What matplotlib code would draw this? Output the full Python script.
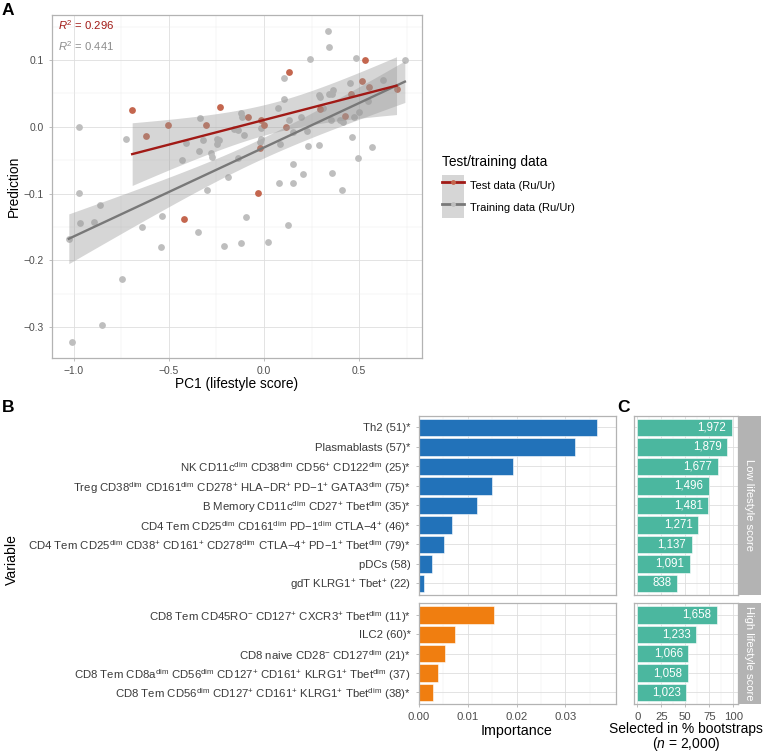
import numpy as np
import matplotlib
matplotlib.use('Agg')
from matplotlib import pyplot as plt
from matplotlib.patches import Patch
from matplotlib.lines import Line2D

plt.rcParams['font.family'] = ['Liberation Sans', 'DejaVu Sans']
plt.rcParams['mathtext.fontset'] = 'custom'
plt.rcParams['mathtext.rm'] = 'Liberation Sans'
plt.rcParams['mathtext.it'] = 'Liberation Sans:italic'
plt.rcParams['mathtext.default'] = 'regular'

# ---- panel A data ----
test_x = [-0.693, -0.619, -0.504, -0.423, -0.304, -0.233, -0.086, -0.032, -0.023, -0.014,
          -0.002, 0.114, 0.132, 0.293, 0.425, 0.456, 0.512, 0.532, 0.553, 0.696]
test_y = [0.025, -0.0135, 0.002, -0.138, 0.003, 0.029, 0.014, -0.0985, -0.0315, 0.0105,
          0.0025, -0.001, 0.082, 0.027, 0.0155, 0.0485, 0.068, 0.100, 0.060, 0.0565]

train_x = [-1.026, -1.009, -0.970, -0.970, -0.968, -0.891, -0.860, -0.853, -0.746, -0.725,
           -0.640, -0.535, -0.539, -0.433, -0.409, -0.349, -0.342, -0.335, -0.319, -0.300,
           -0.277, -0.275, -0.249, -0.247, -0.237, -0.211, -0.188, -0.158, -0.135, -0.135,
           -0.123, -0.123, -0.114, -0.107, -0.095, -0.018, -0.016, -0.021, 0.023, 0.075,
           0.079, 0.082, 0.105, 0.105, 0.126, 0.132, 0.153, 0.153, 0.154, 0.196,
           0.202, 0.226, 0.232, 0.240, 0.288, 0.289, 0.296, 0.309, 0.337, 0.342,
           0.342, 0.356, 0.363, 0.354, 0.358, 0.398, 0.416, 0.407, 0.454, 0.463,
           0.474, 0.482, 0.493, 0.500, 0.546, 0.567, 0.623, 0.740]
train_y = [-0.168, -0.323, 0.000, -0.099, -0.1435, -0.1425, -0.1175, -0.297, -0.2285, -0.0185,
           -0.1505, -0.134, -0.180, -0.050, -0.0245, -0.158, -0.037, 0.013, -0.0195, -0.0945,
           -0.0395, -0.0455, -0.0255, -0.018, -0.0195, -0.179, -0.0755, -0.0035, -0.0045, -0.047,
           0.0205, -0.1745, 0.0145, -0.012, -0.1355, -0.0015, -0.018, -0.0235, -0.172, 0.028,
           -0.084, -0.0255, 0.0735, 0.0415, -0.147, 0.0105, -0.085, -0.0565, -0.0085, 0.0145,
           -0.0715, -0.007, -0.0285, 0.102, -0.028, 0.047, 0.044, 0.028, 0.144, 0.120,
           0.049, 0.049, 0.0555, 0.0105, -0.0695, 0.0105, 0.0075, -0.0945, 0.065, -0.0155,
           0.014, 0.103, -0.0475, 0.0215, 0.0385, -0.030, 0.0705, 0.0995]

# ---- panel B / C data ----
low_labels = [
    'Th2 (51)*',
    'Plasmablasts (57)*',
    r'NK CD11c$^{dim}$ CD38$^{dim}$ CD56$^{+}$ CD122$^{dim}$ (25)*',
    r'Treg CD38$^{dim}$ CD161$^{dim}$ CD278$^{+}$ HLA$-$DR$^{+}$ PD$-$1$^{+}$ GATA3$^{dim}$ (75)*',
    r'B Memory CD11c$^{dim}$ CD27$^{+}$ Tbet$^{dim}$ (35)*',
    r'CD4 Tem CD25$^{dim}$ CD161$^{dim}$ PD$-$1$^{dim}$ CTLA$-$4$^{+}$ (46)*',
    r'CD4 Tem CD25$^{dim}$ CD38$^{+}$ CD161$^{+}$ CD278$^{dim}$ CTLA$-$4$^{+}$ PD$-$1$^{+}$ Tbet$^{dim}$ (79)*',
    'pDCs (58)',
    r'gdT KLRG1$^{+}$ Tbet$^{+}$ (22)',
]
low_importance = [0.0365, 0.0320, 0.0192, 0.0150, 0.0119, 0.0068, 0.0052, 0.0026, 0.0011]
low_boot = [1972, 1879, 1677, 1496, 1481, 1271, 1137, 1091, 838]

high_labels = [
    r'CD8 Tem CD45RO$^{-}$ CD127$^{+}$ CXCR3$^{+}$ Tbet$^{dim}$ (11)*',
    'ILC2 (60)*',
    r'CD8 naive CD28$^{-}$ CD127$^{dim}$ (21)*',
    r'CD8 Tem CD8a$^{dim}$ CD56$^{dim}$ CD127$^{+}$ CD161$^{+}$ KLRG1$^{+}$ Tbet$^{dim}$ (37)',
    r'CD8 Tem CD56$^{dim}$ CD127$^{+}$ CD161$^{+}$ KLRG1$^{+}$ Tbet$^{dim}$ (38)*',
]
high_importance = [0.0154, 0.0073, 0.0054, 0.0038, 0.0029]
high_boot = [1658, 1233, 1066, 1058, 1023]
n_boot = 2000

W, H = 764, 753
fig = plt.figure(figsize=(W / 100, H / 100), dpi=100)


def box(x0, y0, x1, y1):
    # pixel box with top-left origin -> figure rect
    return [x0 / W, 1 - y1 / H, (x1 - x0) / W, (y1 - y0) / H]


def light(ax, tick_size=7.4):
    ax.set_facecolor('white')
    for s in ax.spines.values():
        s.set_color('#B3B3B3')
        s.set_linewidth(0.9)
    ax.tick_params(colors='#B3B3B3', labelcolor='#4D4D4D', labelsize=tick_size, length=2.5, width=0.6)
    ax.tick_params(which='minor', length=0)
    ax.grid(True, which='major', color='#DEDEDE', lw=0.6)
    ax.grid(True, which='minor', color='#EDEDED', lw=0.35)
    ax.set_axisbelow(True)


def t975(df):
    z = 1.959964
    return z + (z**3 + z) / (4 * df) + (5 * z**5 + 16 * z**3 + 3 * z) / (96 * df**2)


def fit_band(x, y, xs):
    x = np.asarray(x)
    y = np.asarray(y)
    n = len(x)
    b, a = np.polyfit(x, y, 1)
    resid = y - (a + b * x)
    s = np.sqrt(np.sum(resid**2) / (n - 2))
    se = s * np.sqrt(1 / n + (xs - x.mean())**2 / np.sum((x - x.mean())**2))
    return a + b * xs, t975(n - 2) * se


# ================= panel A =================
axA = fig.add_axes(box(52, 15, 421.7, 358))
light(axA)

red_pt, red_ln = '#C4664E', '#A11A16'
gray_pt, gray_ln = '#BEBEBE', '#787878'

axA.scatter(train_x, train_y, s=24, color=gray_pt, lw=0, zorder=2)
axA.scatter(test_x, test_y, s=24, color=red_pt, lw=0, zorder=2)

for xs_, ys_, col in [(train_x, train_y, gray_ln), (test_x, test_y, red_ln)]:
    xx = np.linspace(min(xs_), max(xs_), 80)
    pred, hw = fit_band(xs_, ys_, xx)
    axA.fill_between(xx, pred - hw, pred + hw, color='#999999', alpha=0.4, lw=0, zorder=3)
    axA.plot(xx, pred, color=col, lw=1.7, zorder=4)

allx = train_x + test_x
ally = train_y + test_y
rx = max(allx) - min(allx)
ry = max(ally) - min(ally)
axA.set_xlim(min(allx) - 0.05 * rx, max(allx) + 0.05 * rx)
axA.set_ylim(min(ally) - 0.05 * ry, max(ally) + 0.05 * ry)
axA.set_xticks([-1.0, -0.5, 0.0, 0.5])
axA.set_xticklabels(['\u22121.0', '\u22120.5', '0.0', '0.5'])
axA.set_xticks([-0.75, -0.25, 0.25, 0.75], minor=True)
axA.set_yticks([-0.3, -0.2, -0.1, 0.0, 0.1])
axA.set_yticklabels(['\u22120.3', '\u22120.2', '\u22120.1', '0.0', '0.1'])
axA.set_yticks([-0.25, -0.15, -0.05, 0.05, 0.15], minor=True)

axA.text(0.017, 0.971, r'$\mathit{R}^{2}$ = 0.296', transform=axA.transAxes, color='#A11A16',
         fontsize=8.1, va='center', ha='left')
axA.text(0.017, 0.910, r'$\mathit{R}^{2}$ = 0.441', transform=axA.transAxes, color='#8C8C8C',
         fontsize=8.1, va='center', ha='left')

fig.text(237 / W, 1 - 384 / H, 'PC1 (lifestyle score)', fontsize=9.9, ha='center', va='center')
fig.text(14 / W, 1 - 186 / H, 'Prediction', fontsize=9.9, ha='center', va='center', rotation=90)

# legend: title as its own text so the gap to the keys matches
fig.text(442 / W, 1 - 162 / H, 'Test/training data', fontsize=9.9, ha='left', va='center')
key_bg = Patch(facecolor='#999999', alpha=0.4, edgecolor='none')
handles = [(key_bg, Line2D([], [], color=red_ln, lw=2, marker='o', markersize=3.5, markerfacecolor=red_pt, markeredgewidth=0)),
           (key_bg, Line2D([], [], color=gray_ln, lw=2, marker='o', markersize=3.5, markerfacecolor=gray_pt, markeredgewidth=0))]
fig.legend(handles, ['Test data (Ru/Ur)', 'Training data (Ru/Ur)'],
           loc='upper left', bbox_to_anchor=(442 / W, 1 - 175 / H), frameon=False,
           fontsize=8.0, handlelength=1.95, handleheight=2.6,
           labelspacing=0.0, handletextpad=0.6, borderaxespad=0, borderpad=0)

# ================= panel B / C =================
blue, orange, teal = '#2272B9', '#F07E10', '#4BB79F'

rows = [(low_labels, low_importance, low_boot, blue, 'Low lifestyle score', 415.7, 595),
        (high_labels, high_importance, high_boot, orange, 'High lifestyle score', 603.3, 704)]

for labels, imp, boot, col, strip, top, bot in rows:
    n = len(labels)
    ypos = np.arange(n)[::-1]

    axB = fig.add_axes(box(419, top, 616, bot))
    light(axB, 8.2)
    axB.barh(ypos, imp, height=0.9, color=col, edgecolor='white', lw=0.4)
    axB.set_ylim(-0.6, n - 0.4)
    axB.set_xlim(0, 0.0404)
    axB.set_yticks(ypos)
    axB.set_yticklabels(labels, fontsize=8.2, color='#3A3A3A')
    axB.set_xticks([0.0, 0.01, 0.02, 0.03])
    axB.set_xticks([0.005, 0.015, 0.025, 0.035], minor=True)
    axB.grid(False, axis='y', which='minor')

    axC = fig.add_axes(box(634, top, 737.7, bot))
    light(axC, 8.2)
    pct = [100 * b / n_boot for b in boot]
    axC.barh(ypos, pct, height=0.9, color=teal, edgecolor='white', lw=0.4)
    for yy, p, b in zip(ypos, pct, boot):
        axC.annotate(f'{b:,}', (p, yy), xytext=(-4, 0), textcoords='offset points',
                     ha='right', va='center', color='white', fontsize=8.3)
    axC.set_ylim(-0.6, n - 0.4)
    axC.set_xlim(-3.4, 104.6)
    axC.set_yticks(ypos)
    axC.set_yticklabels([])
    axC.tick_params(axis='y', length=0)
    axC.set_xticks([0, 25, 50, 75, 100])
    axC.set_xticks([12.5, 37.5, 62.5, 87.5], minor=True)

    axS = fig.add_axes(box(737.7, top, 760.7, bot))
    axS.set_facecolor('#B3B3B3')
    for s in axS.spines.values():
        s.set_visible(False)
    axS.set_xticks([])
    axS.set_yticks([])
    axS.text(0.5, 0.5, strip, rotation=-90, color='white', fontsize=8.1,
             ha='center', va='center', transform=axS.transAxes)

    if bot < 650:
        axB.set_xticklabels([])
        axB.tick_params(axis='x', length=0)
        axC.set_xticklabels([])
        axC.tick_params(axis='x', length=0)
    else:
        axB.set_xticklabels(['0.00', '0.01', '0.02', '0.03'])

fig.text(517 / W, 1 - 731 / H, 'Importance', fontsize=10.3, ha='center', va='center')
fig.text(686 / W, 1 - 737.5 / H, 'Selected in % bootstraps\n($\\mathit{n}$ = 2,000)', fontsize=10.0,
         ha='center', va='center', linespacing=0.95)
fig.text(12 / W, 1 - 560 / H, 'Variable', fontsize=10.1, ha='center', va='center', rotation=90)

# panel letters
fig.text(2 / W, 1 - 3 / H, 'A', fontsize=12.5, fontweight='bold', ha='left', va='top')
fig.text(2 / W, 1 - 400 / H, 'B', fontsize=12.5, fontweight='bold', ha='left', va='top')
fig.text(617 / W, 1 - 400 / H, 'C', fontsize=12.5, fontweight='bold', ha='left', va='top')

fig.savefig('out.png', dpi=100)
